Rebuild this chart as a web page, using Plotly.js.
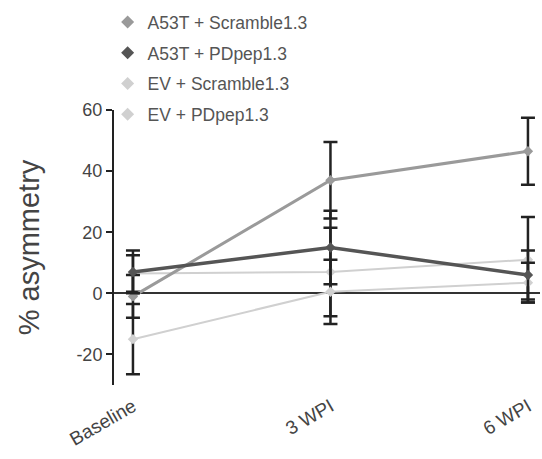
<!DOCTYPE html>
<html>
<head>
<meta charset="utf-8">
<script src="https://cdn.plot.ly/plotly-3.0.1.min.js"></script>
<style>
  html, body { margin: 0; padding: 0; background: #fff; }
  #chart { width: 542px; height: 459px; }
</style>
</head>
<body>
<div id="chart"></div>
<script>
// Time points
const categories = ['Baseline', '3 WPI', '6 WPI'];

// Group names
const groups = ['A53T + Scramble1.3', 'A53T + PDpep1.3', 'EV + Scramble1.3', 'EV + PDpep1.3'];

// Mean % asymmetry per group
const a53tScramble = [-1, 37, 46.5];
const a53tPDpep = [7, 15, 6];
const evScramble = [6.5, 7, 11];
const evPDpep = [-15, 0.5, 3.5];

// Error (SEM) per group
const a53tScrambleErr = [7, 12.5, 11];
const a53tPDpepErr = [7, 12, 8];
const evScrambleErr = [6, 14.5, 14];
const evPDpepErr = [11.5, 10.5, 6.5];

// Significance marker
const starLabel = '*';
const starCategory = '6 WPI';
const starValue = 68;

// Y ticks (plain hyphen for negatives)
const yTicks = [-20, 0, 20, 40, 60];
const yTickText = ['-20', '0', '20', '40', '60'];

const styles = [
  { color: '#9a9a9a', width: 3 },
  { color: '#555555', width: 3.5 },
  { color: '#d0d0d0', width: 2 },
  { color: '#d0d0d0', width: 2 }
];
const means = [a53tScramble, a53tPDpep, evScramble, evPDpep];
const errs = [a53tScrambleErr, a53tPDpepErr, evScrambleErr, evPDpepErr];

const traces = [];
// Data lines with error bars (light groups first so dark lines sit on top)
[2, 3, 0, 1].forEach(function (i) {
  traces.push({
    type: 'scatter',
    mode: 'lines+markers',
    name: groups[i],
    x: categories,
    y: means[i],
    showlegend: false,
    line: { color: styles[i].color, width: styles[i].width },
    marker: { symbol: 'diamond', size: 8, color: styles[i].color },
    error_y: { type: 'data', array: errs[i], visible: true, color: '#222', thickness: 2.5, width: 7 },
    cliponaxis: false
  });
});
// Symbol-only legend entries
groups.forEach(function (g, i) {
  traces.push({
    type: 'scatter',
    mode: 'markers',
    name: g,
    x: [null],
    y: [null],
    legendgroup: 'g' + i,
    marker: { symbol: 'diamond', size: 10, color: styles[i].color }
  });
});

const layout = {
  width: 542,
  height: 459,
  margin: { l: 114, r: 2, t: 110, b: 74 },
  paper_bgcolor: '#fff',
  plot_bgcolor: '#fff',
  font: { family: 'Liberation Sans, Arial, sans-serif', color: '#444' },
  showlegend: true,
  legend: {
    x: -0.015, xanchor: 'left',
    y: 1.385, yanchor: 'top',
    bgcolor: 'rgba(0,0,0,0)',
    font: { size: 17.5, color: '#555' },
    tracegroupgap: 5,
    itemwidth: 30
  },
  xaxis: {
    type: 'category',
    range: [-0.096, 2.061],
    showline: false,
    showgrid: false,
    zeroline: false,
    ticks: '',
    tickangle: -30,
    ticklabelstandoff: 6,
    tickfont: { size: 19, color: '#444' }
  },
  yaxis: {
    range: [-30, 60],
    tickvals: yTicks,
    ticktext: yTickText,
    showline: true,
    linecolor: '#222',
    linewidth: 2,
    ticks: 'outside',
    ticklen: 6,
    tickwidth: 2,
    tickcolor: '#222',
    showgrid: false,
    zeroline: true,
    zerolinecolor: '#333',
    zerolinewidth: 2,
    tickfont: { size: 18, color: '#444' },
    title: { text: '% asymmetry', font: { size: 29, color: '#444' }, standoff: 28 }
  },
  annotations: [{
    x: starCategory, y: starValue, xref: 'x', yref: 'y',
    text: starLabel, showarrow: false,
    font: { size: 20, color: '#444' }
  }]
};

Plotly.newPlot('chart', traces, layout, { displayModeBar: false, staticPlot: true });
</script>
</body>
</html>
